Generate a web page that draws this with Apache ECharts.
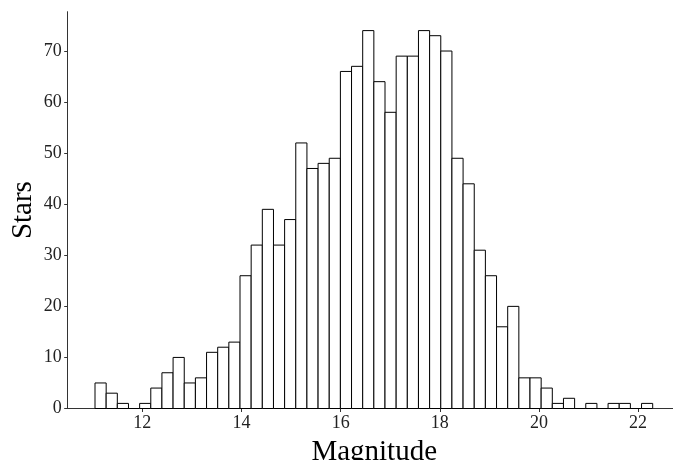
<!DOCTYPE html>
<html>
<head>
<meta charset="utf-8">
<script src="https://cdn.jsdelivr.net/npm/echarts@6/dist/echarts.min.js"></script>
<style>html,body{margin:0;padding:0;background:#fff}#c{width:673px;height:460px}</style>
</head>
<body>
<div id="c"></div>
<script>
// Histogram: 50 bins of star magnitudes
const firstEdge = 11.045;
const binWidth = 0.225;
const counts = [5, 3, 1, 0, 1, 4, 7, 10, 5, 6,
                11, 12, 13, 26, 32, 39, 32, 37, 52, 47,
                48, 49, 66, 67, 74, 64, 58, 69, 69, 74,
                73, 70, 49, 44, 31, 26, 16, 20, 6, 6,
                4, 1, 2, 0, 1, 0, 1, 1, 0, 1];
const xTicks = [12, 14, 16, 18, 20, 22];
const yTicks = [0, 10, 20, 30, 40, 50, 60, 70];
const xLabel = 'Magnitude';
const yLabel = 'Stars';

const data = counts.map((c, i) => [firstEdge + i * binWidth, firstEdge + (i + 1) * binWidth, c]);
const font = 'Liberation Serif';
const chart = echarts.init(document.getElementById('c'), null, {renderer: 'canvas'});
chart.setOption({
  animation: false,
  grid: {left: 67.7, right: -7.7, top: 11.7, bottom: 51.5, containLabel: false, outerBoundsMode: 'none'},
  xAxis: {
    type: 'value', min: 10.494, max: 22.86,
    name: xLabel, nameLocation: 'middle', nameGap: 29, nameMoveOverlap: false,
    nameTextStyle: {fontFamily: font, fontSize: 29, color: '#000'},
    axisLine: {show: true, onZero: false, lineStyle: {color: '#333', width: 1}},
    axisTick: {show: true, inside: false, length: 3.5, customValues: xTicks, lineStyle: {color: '#333'}},
    axisLabel: {customValues: xTicks, fontFamily: font, fontSize: 18, color: '#222', margin: 6},
    splitLine: {show: false}
  },
  yAxis: {
    type: 'value', min: 0, max: 77.7,
    name: yLabel, nameLocation: 'middle', nameGap: 30, nameMoveOverlap: false,
    nameTextStyle: {fontFamily: font, fontSize: 29, color: '#000'},
    axisLine: {show: true, lineStyle: {color: '#333', width: 1}},
    axisTick: {show: true, inside: false, length: 3.5, customValues: yTicks, lineStyle: {color: '#333'}},
    axisLabel: {customValues: yTicks, fontFamily: font, fontSize: 18, color: '#222', margin: 6},
    splitLine: {show: false}
  },
  series: [{
    type: 'custom',
    data: data,
    encode: {x: [0, 1], y: 2},
    renderItem: function (params, api) {
      const p0 = api.coord([api.value(0), api.value(2)]);
      const p1 = api.coord([api.value(1), 0]);
      return {
        type: 'rect',
        shape: {x: p0[0], y: p0[1], width: p1[0] - p0[0], height: p1[1] - p0[1]},
        style: {fill: '#fff', stroke: '#000', lineWidth: 1}
      };
    }
  }]
});
</script>
</body>
</html>
